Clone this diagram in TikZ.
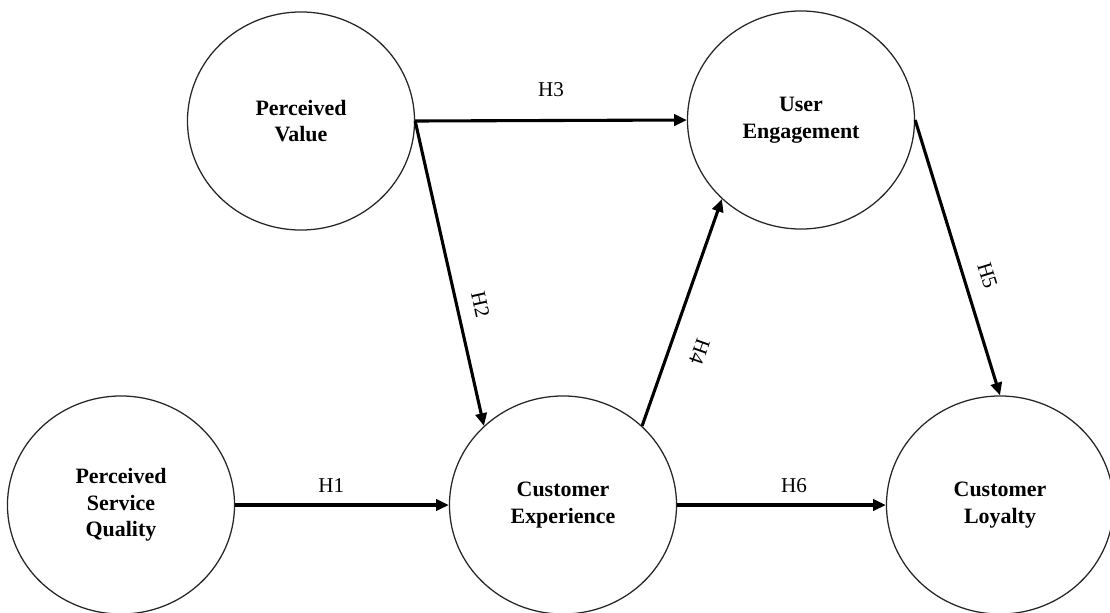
\documentclass[tikz,border=0pt]{standalone}
\usepackage{fontspec}
\setmainfont{Liberation Serif}
\usetikzlibrary{shapes.geometric}
\usetikzlibrary{arrows.meta}

\begin{document}
\begin{tikzpicture}[x=0.025cm,y=-0.025cm,
	construct/.style={ellipse,draw=black!85,line width=0.9pt,minimum width=5.675cm,minimum height=5.45cm,inner sep=0pt,align=center,font=\fontsize{15.6}{19}\selectfont\bfseries},
	hyp/.style={>={Triangle[length=9pt,width=8pt]},line width=2.2pt},
	lbl/.style={font=\fontsize{15}{18}\selectfont,inner sep=0pt}]
	\useasboundingbox (0,0) rectangle (1110,612);
	\node[construct] (pv) at (301,121) {Perceived\\Value};
	\node[construct] (ue) at (801,120) {User\\Engagement};
	\node[construct] (psq) at (121,505) {Perceived\\Service\\Quality};
	\node[construct] (ce) at (563,505) {Customer\\Experience};
	\node[construct] (cl) at (1000,505) {Customer\\Loyalty};
	\draw[hyp,->] (psq.east) -- node[lbl,pos=0.45,above=7.5pt] {H1} (ce.west);
	\draw[hyp,->] (pv.east) -- node[lbl,pos=0.62,sloped,above=10.5pt] {H2} (ce.135);
	\draw[hyp,->] (pv.east) -- node[lbl,midway,above=16pt] {H3} (ue.west);
	\draw[hyp,<-] (ue.225) -- node[lbl,pos=0.63,sloped,allow upside down,above=15pt] {H4} (ce.45);
	\draw[hyp,->] (ue.east) -- node[lbl,pos=0.59,sloped,above=10.5pt] {H5} (cl.north);
	\draw[hyp,->] (ce.east) -- node[lbl,pos=0.56,above=7.5pt] {H6} (cl.west);
\end{tikzpicture}
\end{document}
